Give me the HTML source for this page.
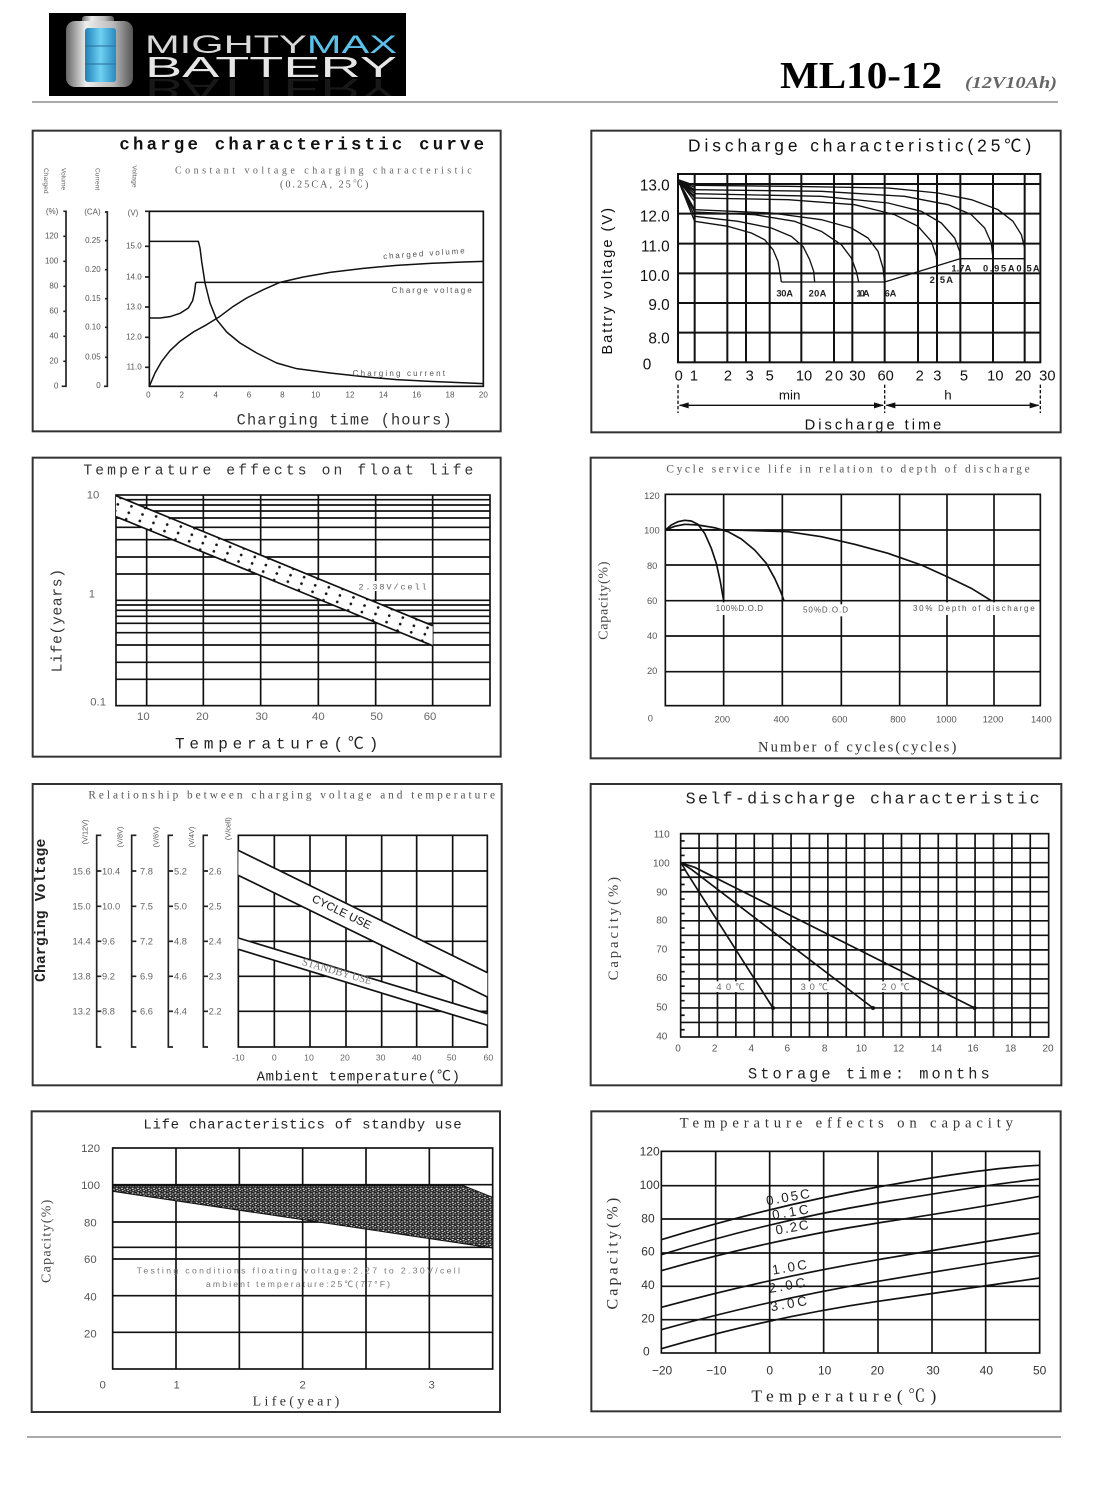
<!DOCTYPE html>
<html><head><meta charset="utf-8"><style>
html,body{margin:0;padding:0;background:#fff}
#pg{position:relative;width:1114px;height:1500px;background:#fff;overflow:hidden}
svg{position:absolute;overflow:visible}
svg text{font-family:"Liberation Sans","Noto Sans CJK SC",sans-serif}
.srf{font-family:"Liberation Serif","Noto Serif CJK SC",serif !important}
.mono{font-family:"Liberation Mono","Noto Sans CJK SC",monospace !important}
</style></head><body><div id="pg">

<!-- header -->
<svg style="left:49px;top:13px;overflow:hidden" width="357" height="83" viewBox="0 0 357 83">
<defs>
<linearGradient id="sil" x1="0" x2="1" y1="0" y2="0"><stop offset="0" stop-color="#666"/><stop offset="0.3" stop-color="#eee"/><stop offset="0.7" stop-color="#bbb"/><stop offset="1" stop-color="#555"/></linearGradient>
<linearGradient id="blu" x1="0" x2="1" y1="0" y2="0"><stop offset="0" stop-color="#1f7fb8"/><stop offset="0.5" stop-color="#6fd2f2"/><stop offset="1" stop-color="#2a88c0"/></linearGradient>
</defs>
<rect x="0" y="0" width="357" height="83" fill="#000"/>
<rect x="33" y="3" width="32" height="8" rx="3" fill="url(#sil)"/>
<rect x="17" y="8" width="67" height="66" rx="9" fill="url(#sil)"/>
<rect x="36" y="15" width="31" height="54" rx="3" fill="url(#blu)"/>
<line x1="36" y1="33" x2="67" y2="33" stroke="#2a6f98" stroke-width="1"/>
<line x1="36" y1="51" x2="67" y2="51" stroke="#2a6f98" stroke-width="1"/>
<text x="96" y="40" font-size="25" textLength="252" lengthAdjust="spacingAndGlyphs" fill="#d8d8d8"><tspan>MIGHTY</tspan><tspan fill="#5cc0e8">MAX</tspan></text>
<text x="96" y="64" font-size="29" textLength="252" lengthAdjust="spacingAndGlyphs" fill="#e6e6e6">BATTERY</text>
<text x="96" y="64" font-size="29" textLength="252" lengthAdjust="spacingAndGlyphs" fill="#e6e6e6" opacity="0.1" transform="translate(0,130) scale(1,-1)">BATTERY</text>
</svg>
<svg style="left:0;top:0" width="1114" height="110" viewBox="0 0 1114 110">
<text class="srf" x="780" y="88" font-size="38" font-weight="bold" textLength="162" lengthAdjust="spacingAndGlyphs" fill="#000">ML10-12</text>
<text class="srf" x="965" y="88" font-size="17" font-style="italic" font-weight="bold" textLength="92" lengthAdjust="spacingAndGlyphs" fill="#666">(12V10Ah)</text>
<rect x="32" y="101" width="1026" height="2" fill="#aaa"/>
</svg>
<div style="position:absolute;left:27px;top:1436px;width:1034px;height:2px;background:#aaa"></div>

<!-- Panel 1 -->
<svg style="left:30px;top:128px" width="475" height="310" viewBox="0 0 1425 930">
<rect x="8" y="8" width="1404" height="902" fill="none" stroke="#333" stroke-width="6"/>
<text class="mono" x="268" y="65" font-size="52" font-weight="bold" textLength="1094" fill="#111">charge characteristic curve</text>
<text class="srf" x="435" y="137" font-size="30" textLength="890" fill="#666">Constant voltage charging characteristic</text>
<text class="srf" x="750" y="178" font-size="30" textLength="265" fill="#555">(0.25CA, 25℃)</text>
<g class="srf" font-size="20" fill="#666">
<text transform="translate(42,120) rotate(90)">Charged</text>
<text transform="translate(94,120) rotate(90)">Volume</text>
<text transform="translate(196,120) rotate(90)">Current</text>
<text transform="translate(308,112) rotate(90)">Voltage</text>
</g>
<g fill="none" stroke="#222" stroke-width="5">
<path d="M100,250 H108 V775 H95"/>
<path d="M225,252 H232 V775 H222"/>
<path d="M100,325H108M100,400H108M100,475H108M100,550H108M100,625H108M100,700H108"/>
<path d="M225,338H232M225,425H232M225,512H232M225,598H232M225,688H232"/>
<path d="M345,250H358M345,355H358M345,447H358M345,537H358M345,628H358M345,718H358"/>
</g>
<g class="srf" font-size="24" fill="#555" text-anchor="end">
<text x="85" y="258">(%)</text><text x="85" y="332">120</text><text x="85" y="407">100</text><text x="85" y="482">80</text><text x="85" y="557">60</text><text x="85" y="632">40</text><text x="85" y="707">20</text><text x="85" y="782">0</text>
<text x="212" y="260">(CA)</text><text x="212" y="345">0.25</text><text x="212" y="432">0.20</text><text x="212" y="519">0.15</text><text x="212" y="605">0.10</text><text x="212" y="695">0.05</text><text x="212" y="780">0</text>
<text x="325" y="262">(V)</text><text x="335" y="362">15.0</text><text x="335" y="454">14.0</text><text x="335" y="544">13.0</text><text x="335" y="635">12.0</text><text x="335" y="725">11.0</text>
</g>
<rect x="358" y="250" width="1002" height="525" fill="none" stroke="#111" stroke-width="5"/>
<g fill="none" stroke="#111" stroke-width="4.5" stroke-linejoin="round">
<polyline points="358,340 505,340 510,360 515,400 525,465 540,525 560,575 590,612 630,645 680,675 740,705 800,722 900,735 1000,746 1100,755 1200,760 1360,767"/>
<polyline points="358,570 390,570 420,566 450,556 475,540 488,518 494,490 497,465 500,463 1360,463"/>
<polyline points="358,775 375,735 395,700 420,668 450,640 490,612 530,590 570,565 610,535 650,510 700,485 750,463 820,447 900,433 1000,421 1100,412 1200,406 1300,402 1360,400"/>
</g>
<g class="srf" font-size="24" fill="#555">
<text x="1060" y="393" textLength="245" transform="rotate(-4 1060 393)">charged volume</text>
<text x="1085" y="495" textLength="240">Charge voltage</text>
<text x="968" y="744" textLength="277">Charging current</text>
</g>
<g class="srf" font-size="24" fill="#555" text-anchor="middle">
<text x="355" y="808">0</text><text x="455" y="808">2</text><text x="557" y="808">4</text><text x="657" y="808">6</text><text x="757" y="808">8</text><text x="857" y="808">10</text><text x="960" y="808">12</text><text x="1060" y="808">14</text><text x="1160" y="808">16</text><text x="1260" y="808">18</text><text x="1360" y="808">20</text>
</g>
<text class="mono" x="620" y="890" font-size="46" textLength="645" fill="#333">Charging time (hours)</text>
</svg>

<!-- Panel 2 -->
<svg style="left:588px;top:128px" width="475" height="310" viewBox="0 0 1425 930">
<rect x="10" y="8" width="1408" height="905" fill="none" stroke="#333" stroke-width="6"/>
<text x="300" y="70" font-size="52" textLength="1030" fill="#111">Discharge characteristic(25℃)</text>
<g stroke="#111" stroke-width="6" fill="none">
<rect x="270" y="138" width="1087" height="565"/>
<path d="M270,168H1357M270,257H1357M270,347H1357M270,436H1357M270,525H1357M270,614H1357"/>
<path d="M320,138V703M418,138V703M474,138V703M545,138V703M640,138V703M738,138V703M793,138V703M890,138V703M990,138V703M1047,138V703M1117,138V703M1215,138V703M1310,138V703"/>
</g>
<g fill="none" stroke="#111" stroke-width="4" stroke-linejoin="round">
<path d="M270,155L320,172M270,155L320,178M270,155L320,185M270,155L320,190M270,155L320,197M270,155L320,205M270,155L320,210M270,155L320,220M270,155L320,245M270,155L320,252M270,155L320,265M270,155L320,280"/>
<polyline points="320,172 600,175 900,180 1050,195 1150,215 1230,245 1275,280 1300,320 1310,360 1310,392"/>
<polyline points="320,185 700,190 950,205 1080,230 1150,260 1190,300 1210,345 1215,392"/>
<polyline points="320,197 700,205 900,225 1000,250 1060,285 1100,330 1115,370 1117,392"/>
<polyline points="320,210 600,215 800,230 920,260 990,295 1030,340 1045,385 1047,410"/>
<polyline points="320,245 550,255 700,275 790,300 840,330 870,370 885,420 890,462"/>
<polyline points="320,252 500,260 620,280 700,310 760,350 790,390 805,430 812,462"/>
<polyline points="320,265 450,280 550,300 610,325 645,355 665,395 677,430 680,462"/>
<polyline points="320,280 420,295 490,315 530,335 555,365 570,400 577,440 580,462"/>
<polyline points="580,462 890,462 1117,392 1310,392"/>
</g>
<g font-size="28" fill="#222" font-weight="bold">
<text x="565" y="505" textLength="50">30A</text><text x="662" y="505" textLength="53">20A</text><text x="805" y="505" textLength="40">10A</text><text x="890" y="505" textLength="35">6A</text>
<text x="1025" y="465" textLength="70">2.5A</text><text x="1090" y="430" textLength="60">1.7A</text><text x="1185" y="430" textLength="95">0.95A</text><text x="1285" y="430" textLength="70">0.5A</text>
</g>
<g font-size="46" fill="#111" text-anchor="end">
<text x="245" y="188">13.0</text><text x="245" y="281">12.0</text><text x="245" y="371">11.0</text><text x="245" y="459">10.0</text><text x="245" y="546">9.0</text><text x="245" y="646">8.0</text><text x="190" y="724">0</text>
</g>
<g font-size="44" fill="#111" text-anchor="middle">
<text x="272" y="758">0</text><text x="318" y="758">1</text><text x="420" y="758">2</text><text x="485" y="758">3</text><text x="545" y="758">5</text><text x="648" y="758">10</text><text x="738" y="758" textLength="55">20</text><text x="808" y="758">30</text><text x="893" y="758">60</text><text x="995" y="758">2</text><text x="1048" y="758">3</text><text x="1128" y="758">5</text><text x="1222" y="758">10</text><text x="1305" y="758">20</text><text x="1378" y="758">30</text>
</g>
<text x="605" y="815" font-size="40" text-anchor="middle" fill="#111">min</text>
<text x="1080" y="815" font-size="40" text-anchor="middle" fill="#111">h</text>
<g stroke="#111" stroke-width="4" fill="none">
<path d="M270,770V855M890,770V855M1357,770V855" stroke-dasharray="10,6"/>
<path d="M275,832H885M895,832H1352"/>
</g>
<g fill="#111"><path d="M272,832l30,-9v18z"/><path d="M888,832l-30,-9v18z"/><path d="M892,832l30,-9v18z"/><path d="M1355,832l-30,-9v18z"/></g>
<text x="650" y="905" font-size="44" textLength="410" fill="#111">Discharge time</text>
<text transform="translate(72,460) rotate(-90)" font-size="44" text-anchor="middle" textLength="440" fill="#111">Battry voltage (V)</text>
</svg>

<!-- Panel 3 -->
<svg style="left:30px;top:455px" width="475" height="305" viewBox="0 0 1425 915">
<defs>
<pattern id="dots" patternUnits="userSpaceOnUse" width="80" height="21" patternTransform="rotate(22.3)"><circle cx="20" cy="6" r="4" fill="#111"/><circle cx="60" cy="16" r="4" fill="#111"/></pattern>
</defs>
<rect x="8" y="8" width="1404" height="897" fill="none" stroke="#333" stroke-width="6"/>
<text class="mono" x="160" y="58" font-size="44" textLength="1170" fill="#333">Temperature effects on float life</text>
<g stroke="#111" stroke-width="5" fill="none">
<rect x="258" y="120" width="1122" height="632"/>
<path d="M258,134H1380M258,150H1380M258,168H1380M258,189H1380M258,217H1380M258,254H1380M258,306H1380M258,357H1380M258,436H1380M258,450H1380M258,466H1380M258,484H1380M258,505H1380M258,533H1380M258,570H1380M258,622H1380M258,673H1380"/>
<path d="M350,120V752M520,120V752M692,120V752M865,120V752M1037,120V752M1208,120V752"/>
</g>
<polygon points="258,122 1208,512 1208,572 258,185" fill="#fff"/>
<polygon points="258,122 1208,512 1208,572 258,185" fill="url(#dots)"/>
<g stroke="#111" stroke-width="5"><line x1="258" y1="122" x2="1208" y2="512"/><line x1="258" y1="185" x2="1208" y2="572"/></g>
<rect x="980" y="378" width="215" height="30" fill="#fff"/>
<text class="mono" x="985" y="403" font-size="26" textLength="205" fill="#666">2.38V/cell</text>
<g class="mono" font-size="34" fill="#666" text-anchor="end">
<text x="208" y="130">10</text><text x="195" y="428">1</text><text x="228" y="752">0.1</text>
</g>
<g class="mono" font-size="34" fill="#666" text-anchor="middle">
<text x="340" y="795">10</text><text x="517" y="795">20</text><text x="695" y="795">30</text><text x="865" y="795">40</text><text x="1040" y="795">50</text><text x="1200" y="795">60</text>
</g>
<text class="mono" x="435" y="880" font-size="48" textLength="610" fill="#222">Temperature(℃)</text>
<text class="mono" transform="translate(95,497) rotate(-90)" font-size="44" text-anchor="middle" textLength="310" fill="#333">Life(years)</text>
</svg>

<!-- Panel 4 -->
<svg style="left:588px;top:455px" width="475" height="305" viewBox="0 0 1425 915">
<rect x="8" y="8" width="1410" height="902" fill="none" stroke="#333" stroke-width="6"/>
<text class="srf" x="235" y="52" font-size="34" textLength="1090" fill="#555">Cycle service life in relation to depth of discharge</text>
<g stroke="#111" stroke-width="5" fill="none">
<rect x="232" y="118" width="1125" height="634"/>
<path d="M232,225H1357M232,330H1357M232,437H1357M232,543H1357M232,650H1357"/>
<path d="M407,118V752M583,118V752M760,118V752M935,118V752M1077,118V752M1218,118V752"/>
</g>
<g fill="none" stroke="#111" stroke-width="5" stroke-linejoin="round">
<polyline points="232,225 250,210 270,200 290,196 310,198 330,208 350,235 370,280 385,325 397,380 404,420 407,437"/>
<polyline points="232,225 260,214 290,208 330,210 380,218 420,230 460,252 500,285 535,325 560,370 578,410 588,437"/>
<polyline points="232,225 400,224 600,230 700,245 800,268 900,295 1000,330 1077,365 1150,400 1210,437"/>
</g>
<rect x="378" y="442" width="150" height="38" fill="#fff"/>
<rect x="640" y="448" width="145" height="36" fill="#fff"/>
<rect x="970" y="442" width="375" height="38" fill="#fff"/>
<g class="srf" font-size="24" fill="#555">
<text x="383" y="468" textLength="142">100%D.O.D</text>
<text x="645" y="473" textLength="135">50%D.O.D</text>
<text x="975" y="468" textLength="365">30% Depth of discharge</text>
</g>
<g class="srf" font-size="28" fill="#555" text-anchor="end">
<text x="215" y="132">120</text><text x="215" y="235">100</text><text x="208" y="342">80</text><text x="208" y="447">60</text><text x="208" y="552">40</text><text x="208" y="657">20</text><text x="195" y="800">0</text>
</g>
<g class="srf" font-size="28" fill="#555" text-anchor="middle">
<text x="403" y="802">200</text><text x="580" y="802">400</text><text x="755" y="802">600</text><text x="930" y="802">800</text><text x="1075" y="802">1000</text><text x="1215" y="802">1200</text><text x="1360" y="802">1400</text>
</g>
<text class="srf" x="510" y="890" font-size="44" textLength="595" fill="#333">Number of cycles(cycles)</text>
<text class="srf" transform="translate(58,437) rotate(-90)" font-size="42" text-anchor="middle" textLength="235" fill="#444">Capacity(%)</text>
</svg>

<!-- Panel 5 -->
<svg style="left:30px;top:782px" width="475" height="305" viewBox="0 0 1425 915">
<rect x="8" y="6" width="1407" height="904" fill="none" stroke="#333" stroke-width="6"/>
<text class="srf" x="175" y="50" font-size="34" textLength="1220" fill="#555">Relationship between charging voltage and temperature</text>
<text class="mono" transform="translate(45,385) rotate(-90)" font-size="44" font-weight="bold" text-anchor="middle" textLength="430" fill="#222">Charging Voltage</text>
<g class="srf" font-size="22" fill="#555" text-anchor="middle">
<text transform="translate(172,150) rotate(-90)">(V/12V)</text>
<text transform="translate(278,165) rotate(-90)">(V/8V)</text>
<text transform="translate(385,165) rotate(-90)">(V/6V)</text>
<text transform="translate(492,165) rotate(-90)">(V/4V)</text>
<text transform="translate(602,140) rotate(-90)">(V/cell)</text>
</g>
<g fill="none" stroke="#222" stroke-width="5">
<path d="M214,160H200V795H214"/><path d="M319,160H305V795H319"/><path d="M429,160H415V795H429"/><path d="M534,160H520V795H534"/>
<path d="M200,267H214M200,373H214M200,478H214M200,583H214M200,688H214"/>
<path d="M305,267H319M305,373H319M305,478H319M305,583H319M305,688H319"/>
<path d="M415,267H429M415,373H429M415,478H429M415,583H429M415,688H429"/>
<path d="M520,267H534M520,373H534M520,478H534M520,583H534M520,688H534"/>
</g>
<g class="srf" font-size="28" fill="#666">
<g text-anchor="end"><text x="182" y="277">15.6</text><text x="182" y="383">15.0</text><text x="182" y="487">14.4</text><text x="182" y="592">13.8</text><text x="182" y="698">13.2</text></g>
<text x="216" y="277">10.4</text><text x="216" y="383">10.0</text><text x="216" y="487">9.6</text><text x="216" y="592">9.2</text><text x="216" y="698">8.8</text>
<text x="330" y="277">7.8</text><text x="330" y="383">7.5</text><text x="330" y="487">7.2</text><text x="330" y="592">6.9</text><text x="330" y="698">6.6</text>
<text x="432" y="277">5.2</text><text x="432" y="383">5.0</text><text x="432" y="487">4.8</text><text x="432" y="592">4.6</text><text x="432" y="698">4.4</text>
<text x="536" y="277">2.6</text><text x="536" y="383">2.5</text><text x="536" y="487">2.4</text><text x="536" y="592">2.3</text><text x="536" y="698">2.2</text>
</g>
<g stroke="#111" stroke-width="5" fill="none">
<rect x="625" y="160" width="747" height="635"/>
<path d="M625,267H1372M625,373H1372M625,478H1372M625,583H1372M625,688H1372"/>
<path d="M733,160V795M840,160V795M948,160V795M1055,160V795M1160,160V795M1268,160V795"/>
</g>
<polygon points="625,205 1372,572 1372,645 625,280" fill="#fff"/>
<polygon points="625,468 1372,695 1372,730 625,502" fill="#fff"/>
<g stroke="#111" stroke-width="5">
<line x1="625" y1="205" x2="1372" y2="572"/><line x1="625" y1="280" x2="1372" y2="645"/>
<line x1="625" y1="468" x2="1372" y2="695"/><line x1="625" y1="502" x2="1372" y2="730"/>
</g>
<text x="930" y="400" font-size="34" text-anchor="middle" fill="#111" transform="rotate(26 930 400)">CYCLE USE</text>
<text class="srf" x="918" y="578" font-size="32" text-anchor="middle" fill="#777" transform="rotate(16 918 578)">STANDBY USE</text>
<g class="srf" font-size="26" fill="#666" text-anchor="middle">
<text x="625" y="835">-10</text><text x="733" y="835">0</text><text x="837" y="835">10</text><text x="945" y="835">20</text><text x="1052" y="835">30</text><text x="1160" y="835">40</text><text x="1265" y="835">50</text><text x="1375" y="835">60</text>
</g>
<text class="mono" x="680" y="895" font-size="42" textLength="610" fill="#222">Ambient temperature(℃)</text>
</svg>

<!-- Panel 6 -->
<svg style="left:588px;top:782px" width="475" height="305" viewBox="0 0 1425 915">
<rect x="8" y="6" width="1412" height="904" fill="none" stroke="#333" stroke-width="6"/>
<text class="mono" x="293" y="65" font-size="50" textLength="1062" fill="#222">Self-discharge characteristic</text>
<g stroke="#111" stroke-width="5" fill="none">
<rect x="278" y="155" width="1104" height="610"/>
<path d="M278,198.6H1382M278,242.1H1382M278,285.7H1382M278,329.3H1382M278,372.9H1382M278,416.4H1382M278,460H1382M278,503.6H1382M278,547.1H1382M278,590.7H1382M278,634.3H1382M278,677.9H1382M278,721.4H1382"/>
<path d="M333.2,155V765M388.4,155V765M443.6,155V765M498.8,155V765M554,155V765M609.2,155V765M664.4,155V765M719.6,155V765M774.8,155V765M830,155V765M885.2,155V765M940.4,155V765M995.6,155V765M1050.8,155V765M1106,155V765M1161.2,155V765M1216.4,155V765M1271.6,155V765M1326.8,155V765"/>
<path d="M278,176.8h12M278,220.4h12M278,264h12M278,307.5h12M278,351.1h12M278,394.7h12M278,438.2h12M278,481.8h12M278,525.4h12M278,569h12M278,612.5h12M278,656.1h12M278,699.7h12M278,743.2h12"/>
</g>
<g stroke="#111" stroke-width="5" fill="none">
<polyline points="280,243 295,270 555,678"/>
<polyline points="280,243 310,262 855,678"/>
<polyline points="280,243 320,256 1160,678"/>
</g>
<g fill="#111"><circle cx="555" cy="678" r="6"/><circle cx="855" cy="678" r="6"/><circle cx="1160" cy="678" r="6"/></g>
<rect x="383" y="598" width="90" height="32" fill="#fff"/>
<rect x="636" y="598" width="88" height="32" fill="#fff"/>
<rect x="878" y="598" width="90" height="32" fill="#fff"/>
<g class="srf" font-size="28" fill="#666">
<text x="385" y="624" textLength="85">40℃</text><text x="638" y="624" textLength="82">30℃</text><text x="880" y="624" textLength="85">20℃</text>
</g>
<g class="srf" font-size="30" fill="#555" text-anchor="end">
<text x="245" y="167">110</text><text x="245" y="254">100</text><text x="238" y="340">90</text><text x="238" y="425">80</text><text x="238" y="512">70</text><text x="238" y="597">60</text><text x="238" y="685">50</text><text x="238" y="772">40</text>
</g>
<g class="srf" font-size="30" fill="#555" text-anchor="middle">
<text x="270" y="808">0</text><text x="380" y="808">2</text><text x="490" y="808">4</text><text x="598" y="808">6</text><text x="710" y="808">8</text><text x="820" y="808">10</text><text x="932" y="808">12</text><text x="1045" y="808">14</text><text x="1155" y="808">16</text><text x="1268" y="808">18</text><text x="1380" y="808">20</text>
</g>
<text class="mono" x="480" y="890" font-size="46" textLength="725" fill="#222">Storage time: months</text>
<text class="srf" transform="translate(90,440) rotate(-90)" font-size="44" text-anchor="middle" textLength="310" fill="#444">Capacity(%)</text>
</svg>

<!-- Panel 7 -->
<svg style="left:30px;top:1108px" width="475" height="340" viewBox="0 0 1425 1020">
<defs>
<pattern id="spk" patternUnits="userSpaceOnUse" width="16" height="14">
<rect width="16" height="14" fill="#222"/>
<ellipse cx="4" cy="3" rx="3" ry="1.8" fill="#eee"/><ellipse cx="12" cy="6" rx="2.4" ry="1.8" fill="#ddd"/><ellipse cx="6" cy="10" rx="2.8" ry="1.6" fill="#f4f4f4"/><ellipse cx="14" cy="12" rx="1.8" ry="1.4" fill="#ccc"/>
</pattern>
</defs>
<rect x="5" y="10" width="1405" height="902" fill="none" stroke="#333" stroke-width="6"/>
<text class="mono" x="340" y="62" font-size="42" textLength="955" fill="#222">Life characteristics of standby use</text>
<g stroke="#111" stroke-width="5" fill="none">
<rect x="248" y="120" width="1140" height="663"/>
<path d="M248,230H1388M248,342H1388M248,418H1388M248,453H1388M248,563H1388M248,673H1388"/>
<path d="M438,120V783M628,120V783M818,120V783M1008,120V783M1198,120V783"/>
</g>
<polygon points="248,233 1300,233 1388,268 1388,420 248,250" fill="url(#spk)"/>
<polygon points="248,233 1300,233 1388,268 1388,420 248,250" fill="none" stroke="#111" stroke-width="3"/>
<g class="srf" font-size="26" fill="#777">
<text x="320" y="497" textLength="970">Testing conditions floating voltage:2.27 to 2.30V/cell</text>
<text x="528" y="537" textLength="552">ambient temperature:25℃(77°F)</text>
</g>
<g class="srf" font-size="34" fill="#555" text-anchor="end">
<text x="210" y="132">120</text><text x="210" y="243">100</text><text x="200" y="355">80</text><text x="200" y="465">60</text><text x="200" y="577">40</text><text x="200" y="688">20</text>
</g>
<g class="srf" font-size="34" fill="#555" text-anchor="middle">
<text x="218" y="842">0</text><text x="440" y="842">1</text><text x="818" y="842">2</text><text x="1205" y="842">3</text>
</g>
<text class="srf" x="668" y="893" font-size="42" textLength="260" fill="#333">Life(year)</text>
<text class="srf" transform="translate(62,400) rotate(-90)" font-size="42" text-anchor="middle" textLength="250" fill="#444">Capacity(%)</text>
</svg>

<!-- Panel 8 -->
<svg style="left:588px;top:1108px" width="475" height="340" viewBox="0 0 1425 1020">
<rect x="10" y="10" width="1408" height="900" fill="none" stroke="#333" stroke-width="6"/>
<text class="srf" x="275" y="58" font-size="44" textLength="1000" fill="#333">Temperature effects on capacity</text>
<g stroke="#111" stroke-width="5" fill="none">
<rect x="220" y="130" width="1135" height="605"/>
<path d="M220,233H1355M220,333H1355M220,435H1355M220,535H1355M220,635H1355"/>
<path d="M383,130V735M545,130V735M707,130V735M870,130V735M1032,130V735M1193,130V735"/>
</g>
<g stroke="#111" stroke-width="5" fill="none">
<path d="M220,395 Q545,295 870,237 T1355,172"/>
<path d="M220,440 Q545,340 870,285 T1355,213"/>
<path d="M220,488 Q545,395 870,345 T1355,265"/>
<path d="M220,598 Q545,510 870,455 T1355,375"/>
<path d="M220,665 Q545,575 870,520 T1355,443"/>
<path d="M220,722 Q545,628 870,580 T1355,510"/>
</g>
<g class="srf" font-size="40" fill="#222">
<text x="537" y="292" textLength="132" transform="rotate(-10 537 292)">0.05C</text>
<text x="555" y="335" textLength="110" transform="rotate(-10 555 335)">0.1C</text>
<text x="565" y="380" textLength="100" transform="rotate(-10 565 380)">0.2C</text>
<text x="555" y="500" textLength="105" transform="rotate(-10 555 500)">1.0C</text>
<text x="545" y="555" textLength="110" transform="rotate(-10 545 555)">2.0C</text>
<text x="550" y="610" textLength="110" transform="rotate(-10 550 610)">3.0C</text>
</g>
<g class="srf" font-size="36" fill="#333" text-anchor="end">
<text x="215" y="143">120</text><text x="215" y="243">100</text><text x="200" y="343">80</text><text x="200" y="443">60</text><text x="200" y="543">40</text><text x="200" y="643">20</text><text x="185" y="743">0</text>
</g>
<g class="srf" font-size="36" fill="#333" text-anchor="middle">
<text x="222" y="800">−20</text><text x="385" y="800">−10</text><text x="545" y="800">0</text><text x="710" y="800">10</text><text x="868" y="800">20</text><text x="1035" y="800">30</text><text x="1195" y="800">40</text><text x="1355" y="800">50</text>
</g>
<text class="srf" x="490" y="880" font-size="52" textLength="555" fill="#222">Temperature(℃)</text>
<text class="srf" transform="translate(88,437) rotate(-90)" font-size="48" text-anchor="middle" textLength="335" fill="#333">Capacity(%)</text>
</svg>

</div></body></html>
